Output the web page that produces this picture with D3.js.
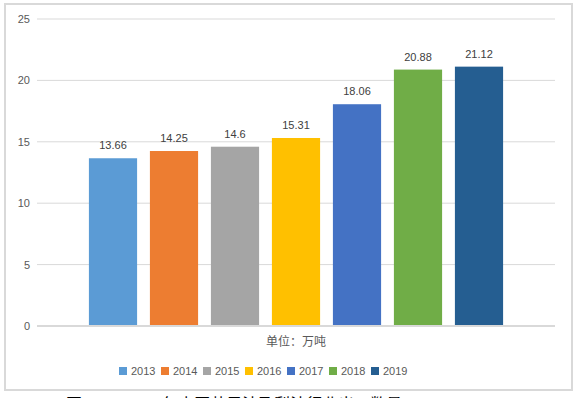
<!DOCTYPE html>
<html>
<head>
<meta charset="utf-8">
<script src="https://cdn.jsdelivr.net/npm/d3@7"></script>
<style>
  body { margin: 0; background: #fff; }
  svg { display: block; font-family: "Liberation Sans", "Noto Sans CJK SC", sans-serif; }
</style>
</head>
<body>
<div id="vis"></div>
<script>
// data
var years = ["2013", "2014", "2015", "2016", "2017", "2018", "2019"]
var values = [13.66, 14.25, 14.6, 15.31, 18.06, 20.88, 21.12]
var colors = ["#5b9bd5", "#ed7d31", "#a5a5a5", "#ffc000", "#4472c4", "#70ad47", "#255e91"]
var yTicks = [0, 5, 10, 15, 20, 25]
var unitLabel = "单位：万吨"
var caption = "图 2013-2019年中国苹果汁及梨汁行业出口数量"

var width = 578, height = 398

var svg = d3.select("#vis")
  .append("svg")
    .attr("width", width)
    .attr("height", height)

// outer frame
svg.append("rect")
  .attr("x", 5).attr("y", 4)
  .attr("width", 567).attr("height", 386)
  .attr("fill", "#fff")
  .attr("stroke", "#d9d9d9")
  .attr("stroke-width", 2)

var y = d3.scaleLinear()
  .domain([0, 25])
  .range([326, 19])

var x = d3.scaleBand()
  .domain(years)
  .range([82.5, 509.5])
  .paddingInner(0.21)
  .paddingOuter(0.105)

// grid lines
svg.append("g")
  .selectAll("line")
  .data(yTicks.filter(d => d > 0))
  .enter()
  .append("line")
    .attr("x1", 37).attr("x2", 555)
    .attr("y1", d => y(d)).attr("y2", d => y(d))
    .attr("stroke", "#d9d9d9")
    .attr("stroke-width", 1)

// y axis labels
var yAxis = svg.append("g")
  .attr("transform", "translate(30,0)")
  .call(d3.axisLeft(y).tickValues(yTicks).tickSize(0).tickPadding(0))
yAxis.select(".domain").remove()
yAxis.selectAll("text")
  .attr("fill", "#595959")
  .style("font-size", "11px")
  .style("font-family", "Liberation Sans, sans-serif")

// bars
svg.append("g")
  .selectAll("rect")
  .data(values)
  .enter()
  .append("rect")
    .attr("x", (d, i) => x(years[i]))
    .attr("y", d => y(d))
    .attr("width", x.bandwidth())
    .attr("height", d => y(0) - y(d))
    .attr("fill", (d, i) => colors[i])

// baseline
svg.append("line")
  .attr("x1", 37).attr("x2", 555)
  .attr("y1", y(0)).attr("y2", y(0))
  .attr("stroke", "#d9d9d9")
  .attr("stroke-width", 2)

// value labels
svg.append("g")
  .selectAll("text")
  .data(values)
  .enter()
  .append("text")
    .attr("x", (d, i) => x(years[i]) + x.bandwidth() / 2)
    .attr("y", d => y(d) - 9)
    .attr("text-anchor", "middle")
    .attr("fill", "#404040")
    .style("font-size", "11px")
    .text(d => d)

// unit label
svg.append("text")
  .attr("x", 296)
  .attr("y", 346)
  .attr("text-anchor", "middle")
  .attr("fill", "#595959")
  .style("font-size", "12px")
  .text(unitLabel)

// legend
var legend = svg.append("g")
  .selectAll("g")
  .data(years)
  .enter()
  .append("g")
    .attr("transform", (d, i) => "translate(" + (119 + i * 42) + ",367)")
legend.append("rect")
  .attr("width", 8).attr("height", 8)
  .attr("fill", (d, i) => colors[i])
legend.append("text")
  .attr("x", 12)
  .attr("y", 8)
  .attr("fill", "#595959")
  .style("font-size", "11px")
  .text(d => d)

// caption (cut off at the bottom of the picture, as in the source)
svg.append("text")
  .attr("x", 66)
  .attr("y", 410)
  .attr("fill", "#000")
  .style("font-size", "16px")
  .style("font-family", "Noto Sans CJK SC, sans-serif")
  .text(caption)
</script>
</body>
</html>
